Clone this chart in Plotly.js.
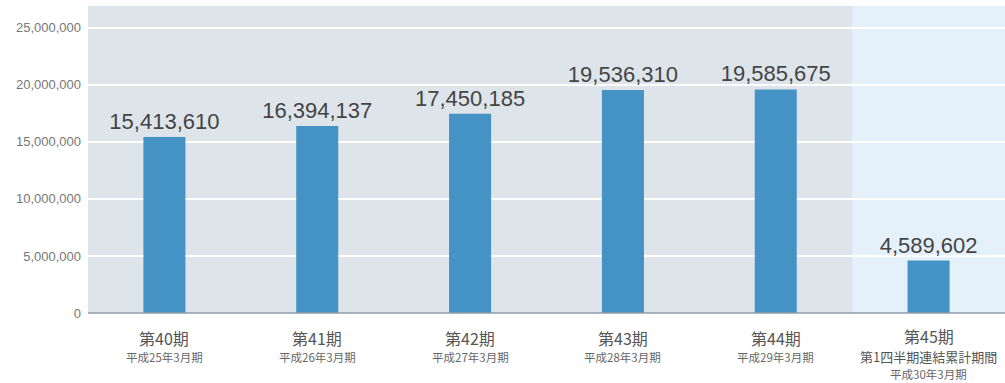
<!DOCTYPE html>
<html><head><meta charset="utf-8">
<script src="https://cdn.plot.ly/plotly-3.0.1.min.js"></script>
<style>body{margin:0;background:#fff}#c{width:1005px;height:383px}</style>
</head><body><div id="c"></div>
<script>
var categories = ["第40期","第41期","第42期","第43期","第44期","第45期"];
var periods = ["平成25年3月期","平成26年3月期","平成27年3月期","平成28年3月期","平成29年3月期","平成30年3月期"];
var extraNote = ["","","","","","第1四半期連結累計期間"];
var values = [15413610, 16394137, 17450185, 19536310, 19585675, 4589602];
var yTicks = [0, 5000000, 10000000, 15000000, 20000000, 25000000];
var yTickText = ["0","5,000,000","10,000,000","15,000,000","20,000,000","25,000,000"];

var xIdx = categories.map(function(_, i){ return i; });
var labels = values.map(function(v){ return v.toLocaleString('en-US'); });

var trace = {
  type: 'bar', x: xIdx, y: values, width: 0.275,
  marker: {color: '#4592C4'},
  text: labels, textposition: 'outside', cliponaxis: false, constraintext: 'none',
  textfont: {family: 'Liberation Sans, Arial, sans-serif', size: 22, color: '#444'},
  hoverinfo: 'skip'
};

var ann = [];
categories.forEach(function(c, i){
  var hasNote = extraNote[i] !== "";
  ann.push({x: i, y: 0, xref: 'x', yref: 'paper', text: c, showarrow: false,
    yanchor: 'middle', yshift: hasNote ? -23 : -25, font: {family: 'Noto Sans CJK JP, sans-serif', size: 16, color: '#555'}});
  if (hasNote) {
    ann.push({x: i, y: 0, xref: 'x', yref: 'paper', text: extraNote[i], showarrow: false,
      yanchor: 'middle', yshift: -43, font: {family: 'Noto Sans CJK JP, sans-serif', size: 13, color: '#555'}});
  }
  ann.push({x: i, y: 0, xref: 'x', yref: 'paper', text: periods[i], showarrow: false,
    yanchor: 'middle', yshift: hasNote ? -61 : -44, font: {family: 'Noto Sans CJK JP, sans-serif', size: 11.5, color: '#666'}});
});

var layout = {
  width: 1005, height: 383,
  margin: {l: 88, r: 0, t: 6, b: 70},
  paper_bgcolor: '#ffffff', plot_bgcolor: '#DDE5EB',
  showlegend: false,
  xaxis: {range: [-0.5, 5.5], showticklabels: false, showgrid: false, zeroline: false,
    fixedrange: true, showline: false},
  yaxis: {range: [0, 26900000], tickvals: yTicks, ticktext: yTickText, showgrid: true,
    gridcolor: '#ffffff', gridwidth: 2, zeroline: false, ticks: '', ticklabelstandoff: 6,
    tickfont: {family: 'Liberation Sans Narrow, Arial Narrow, sans-serif', size: 13, color: '#777'},
    showline: false},
  shapes: [
    {type: 'rect', xref: 'x', yref: 'paper', x0: 4.5, x1: 5.5, y0: 0, y1: 1,
      fillcolor: '#E4F1FB', line: {width: 0}, layer: 'below'},
    {type: 'line', xref: 'paper', yref: 'paper', x0: 0, x1: 1, y0: 0, y1: 0,
      line: {color: '#8E9DAA', width: 1.5}}
  ],
  annotations: ann
};
Plotly.newPlot('c', [trace], layout, {displayModeBar: false, staticPlot: true});
</script></body></html>
